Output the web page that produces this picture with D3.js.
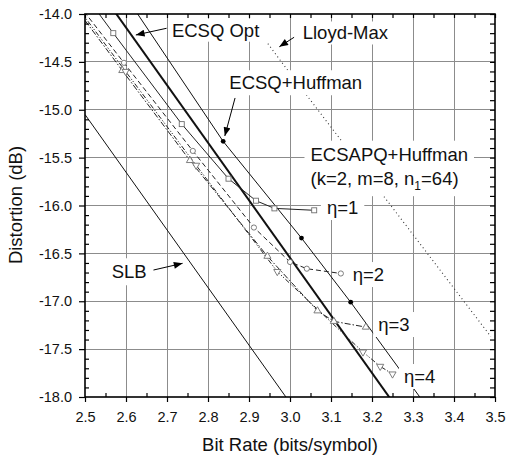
<!DOCTYPE html>
<html>
<head>
<meta charset="utf-8">
<script src="https://cdn.jsdelivr.net/npm/d3@7"></script>
<style>
  body { margin: 0; background: #fff; }
  text { font-family: "Liberation Sans", Arial, sans-serif; }
</style>
</head>
<body>
<div id="chart"></div>
<script>
// values: rate in bits/symbol, distortion in dB
var xTicks = [2.5, 2.6, 2.7, 2.8, 2.9, 3.0, 3.1, 3.2, 3.3, 3.4, 3.5];
var yTicks = [-14.0, -14.5, -15.0, -15.5, -16.0, -16.5, -17.0, -17.5, -18.0];

var slbRate = [2.5, 3.0];
var slbDist = [-15.05, -18.06];

var optRate = [2.5, 3.3];
var optDist = [-13.54, -18.35];

var huffRate = [2.55, 2.837, 3.028, 3.148, 3.40];
var huffDist = [-13.50, -15.33, -16.34, -17.01, -18.49];

var lloydRate = [2.946, 3.0, 3.49];
var lloydDist = [-14.31, -14.62, -17.37];

var eta1Rate = [2.50, 2.569, 2.736, 2.850, 2.917, 2.962, 3.059];
var eta1Dist = [-13.80, -14.20, -15.15, -15.72, -15.95, -16.03, -16.05];

var eta2Rate = [2.45, 2.595, 2.763, 2.912, 3.000, 3.041, 3.124];
var eta2Dist = [-13.71, -14.51, -15.43, -16.23, -16.59, -16.66, -16.71];

var eta3Rate = [2.45, 2.591, 2.756, 2.945, 3.067, 3.107, 3.185];
var eta3Dist = [-13.78, -14.59, -15.53, -16.53, -17.10, -17.21, -17.27];

var eta4Rate = [2.45, 2.599, 2.771, 2.969, 3.178, 3.220, 3.250];
var eta4Dist = [-13.75, -14.60, -15.58, -16.69, -17.53, -17.68, -17.76];

function pts(r, d) { return r.map(function(v, i) { return [v, d[i]]; }); }

var W = 507, H = 457;
var svg = d3.select("#chart").append("svg").attr("width", W).attr("height", H);

var x = d3.scaleLinear().domain([2.5, 3.5]).range([85, 495]);
var y = d3.scaleLinear().domain([-14, -18]).range([14, 397]);

var fmt = function(d) { return d.toFixed(1); };
var xMinor = d3.range(2.55, 3.5, 0.1);
var yAll = d3.range(-14, -18.05, -0.1);
var yMinor = yAll.filter(function(v) { return Math.abs(v * 2 - Math.round(v * 2)) > 0.01; });
var xAll = xTicks.concat(xMinor);

svg.append("defs").append("clipPath").attr("id", "plot")
  .append("rect").attr("x", 85).attr("y", 14).attr("width", 410).attr("height", 383);

// grid
var grid = svg.append("g").attr("stroke", "#8c8c8c").attr("stroke-width", 1).attr("shape-rendering", "crispEdges");
grid.selectAll(".gx").data(xTicks.slice(1, -1)).enter().append("line")
  .attr("x1", function(d) { return x(d); }).attr("x2", function(d) { return x(d); })
  .attr("y1", y(-14)).attr("y2", y(-18));
grid.selectAll(".gy").data(yTicks.slice(1, -1)).enter().append("line")
  .attr("y1", function(d) { return y(d); }).attr("y2", function(d) { return y(d); })
  .attr("x1", x(2.5)).attr("x2", x(3.5));

var plot = svg.append("g").attr("clip-path", "url(#plot)");
var line = d3.line().x(function(d) { return x(d[0]); }).y(function(d) { return y(d[1]); });

function drawLine(data, width, dash, color) {
  plot.append("path").datum(data).attr("d", line)
    .attr("fill", "none").attr("stroke", color || "#111")
    .attr("stroke-width", width).attr("stroke-dasharray", dash || null);
}

drawLine(pts(slbRate, slbDist), 1);
drawLine(pts(optRate, optDist), 2);
drawLine(pts(huffRate, huffDist), 1);
drawLine(pts(lloydRate, lloydDist), 1.1, "1,3", "#333");
drawLine(pts(eta1Rate, eta1Dist), 1, null, "#222");
drawLine(pts(eta2Rate, eta2Dist), 1, "5,3", "#222");
drawLine(pts(eta3Rate, eta3Dist), 1, "6,2,1.5,2", "#222");
drawLine(pts(eta4Rate, eta4Dist), 1, "5,2,1.2,1.6,1.2,2", "#222");

// markers
var mk = "#6f6f6f";
plot.selectAll(".sq").data(pts(eta1Rate, eta1Dist)).enter().append("rect")
  .attr("x", function(d) { return x(d[0]) - 2.5; }).attr("y", function(d) { return y(d[1]) - 2.5; })
  .attr("width", 5).attr("height", 5).attr("fill", "#fff").attr("stroke", mk).attr("stroke-width", 0.9);
plot.selectAll(".ci").data(pts(eta2Rate, eta2Dist)).enter().append("circle")
  .attr("cx", function(d) { return x(d[0]); }).attr("cy", function(d) { return y(d[1]); })
  .attr("r", 2.6).attr("fill", "#fff").attr("stroke", mk).attr("stroke-width", 0.9);
var tri = d3.symbol().type(d3.symbolTriangle).size(22);
plot.selectAll(".tu").data(pts(eta3Rate, eta3Dist)).enter().append("path")
  .attr("d", tri).attr("transform", function(d) { return "translate(" + x(d[0]) + "," + y(d[1]) + ")"; })
  .attr("fill", "#fff").attr("stroke", mk).attr("stroke-width", 0.9);
plot.selectAll(".td").data(pts(eta4Rate, eta4Dist)).enter().append("path")
  .attr("d", tri).attr("transform", function(d) { return "translate(" + x(d[0]) + "," + y(d[1]) + ") rotate(180)"; })
  .attr("fill", "#fff").attr("stroke", mk).attr("stroke-width", 0.9);
plot.selectAll(".fc").data(pts(huffRate, huffDist)).enter().append("circle")
  .attr("cx", function(d) { return x(d[0]); }).attr("cy", function(d) { return y(d[1]); })
  .attr("r", 2.4).attr("fill", "#000");

// labels with white boxes
var labelLayer = svg.append("g");
function addLabel(lines, r, d, pad) {
  var g = labelLayer.append("g");
  var t = g.append("text").attr("font-size", 18.5).attr("fill", "#111");
  lines.forEach(function(l, i) {
    var ts = t.append("tspan").attr("x", x(r)).attr("y", y(d) + i * 24.5);
    l.forEach(function(part) {
      var s = ts.append("tspan").text(part.t);
      if (part.sub) s.attr("font-size", 12).attr("dy", 5);
      if (part.back) s.attr("dy", -5);
    });
  });
  var b = t.node().getBBox();
  g.insert("rect", "text").attr("x", b.x - pad[0]).attr("y", b.y - pad[1])
    .attr("width", b.width + 2 * pad[0]).attr("height", b.height + 2 * pad[1]).attr("fill", "#fff");
}
addLabel([[{t: "ECSQ Opt"}]], 2.712, -14.237, [3, 1]);
addLabel([[{t: "Lloyd-Max"}]], 3.031, -14.266, [3, 1]);
addLabel([[{t: "ECSQ+Huffman"}]], 2.852, -14.786, [3, 2]);
addLabel([[{t: "ECSAPQ+Huffman"}], [{t: "(k=2, m=8, n"}, {t: "1", sub: true}, {t: "=64)", back: true}]], 3.050, -15.532, [6, 3]);
addLabel([[{t: "η=1"}]], 3.090, -16.089, [6, 2]);
addLabel([[{t: "η=2"}]], 3.153, -16.789, [5, 2]);
addLabel([[{t: "η=3"}]], 3.215, -17.311, [5, 2]);
addLabel([[{t: "η=4"}]], 3.278, -17.854, [5, 2]);
addLabel([[{t: "SLB"}]], 2.565, -16.760, [4, 3]);

// arrows
svg.select("defs").append("marker").attr("id", "ah")
  .attr("viewBox", "0 0 10 8").attr("refX", 10).attr("refY", 4)
  .attr("markerWidth", 10).attr("markerHeight", 7).attr("markerUnits", "userSpaceOnUse")
  .attr("orient", "auto").append("path").attr("d", "M0,0 L10,4 L0,8 Z").attr("fill", "#000");
var arrows = [
  [2.699, -14.149, 2.624, -14.219],
  [3.010, -14.243, 2.974, -14.342],
  [2.866, -14.877, 2.841, -15.274],
  [2.667, -16.674, 2.738, -16.604]
];
svg.selectAll(".arrow").data(arrows).enter().append("line")
  .attr("x1", function(d) { return x(d[0]); }).attr("y1", function(d) { return y(d[1]); })
  .attr("x2", function(d) { return x(d[2]); }).attr("y2", function(d) { return y(d[3]); })
  .attr("stroke", "#000").attr("stroke-width", 1).attr("marker-end", "url(#ah)");

// axes
function style(g) {
  g.select(".domain").remove();
  g.selectAll(".tick line").attr("stroke", "#000").attr("stroke-width", 1.2);
  g.selectAll(".tick text").attr("font-size", 14.5).attr("fill", "#111")
    .attr("font-family", "'Liberation Sans', Arial, sans-serif");
}
svg.append("g").attr("transform", "translate(0,397)")
  .call(d3.axisBottom(x).tickValues(xTicks).tickSize(5).tickPadding(10).tickFormat(fmt)).call(style);
svg.append("g").attr("transform", "translate(0,397)")
  .call(d3.axisBottom(x).tickValues(xMinor).tickSize(-4).tickFormat("")).call(style);
svg.append("g").attr("transform", "translate(0,14)")
  .call(d3.axisTop(x).tickValues(xAll).tickSize(-4).tickFormat("")).call(style);
svg.append("g").attr("transform", "translate(85,0)")
  .call(d3.axisLeft(y).tickValues(yTicks).tickSize(6).tickPadding(7).tickFormat(fmt)).call(style);
svg.append("g").attr("transform", "translate(85,0)")
  .call(d3.axisLeft(y).tickValues(yMinor).tickSize(-4).tickFormat("")).call(style);
svg.append("g").attr("transform", "translate(495,0)")
  .call(d3.axisRight(y).tickValues(yAll).tickSize(-5).tickFormat("")).call(style);

svg.append("rect").attr("x", 85).attr("y", 14).attr("width", 410).attr("height", 383)
  .attr("fill", "none").attr("stroke", "#000").attr("stroke-width", 1.6);

svg.append("text").attr("x", 290).attr("y", 451).attr("text-anchor", "middle")
  .attr("font-size", 18.5).attr("fill", "#111").text("Bit Rate (bits/symbol)");
svg.append("text").attr("transform", "rotate(-90)").attr("x", -205).attr("y", 22)
  .attr("text-anchor", "middle").attr("font-size", 18.5).attr("fill", "#111").text("Distortion (dB)");
</script>
</body>
</html>
